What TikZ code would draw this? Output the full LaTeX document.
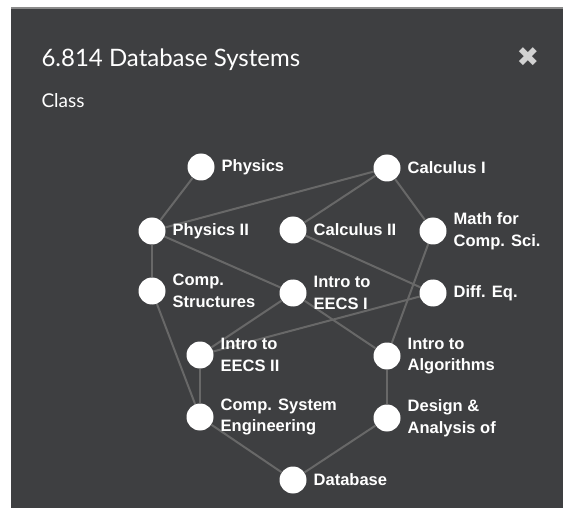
\documentclass[tikz,border=0pt]{standalone}
\usepackage{fontspec}
\setmainfont{Liberation Sans}
\newfontfamily\titlefont{Lato}
\newfontfamily\symfont{DejaVu Sans}
\usetikzlibrary{backgrounds}

\definecolor{panelgray}{HTML}{3E3F41}
\definecolor{edgegray}{HTML}{686868}
\definecolor{rimgray}{HTML}{8A8A8A}
\definecolor{closegray}{HTML}{D2D2D2}

\tikzset{
  course/.style={circle, fill=white, minimum size=27pt, inner sep=0pt,
    label={[coursetext]right:{#1}}},
  coursetext/.style={text=white, align=left, label distance=3.5pt,
    font=\fontsize{16.5}{21.5}\selectfont\bfseries},
  prereq/.style={draw=edgegray, line width=2pt}
}

\begin{document}
\begin{tikzpicture}[x=1pt, y=-1pt]
    \useasboundingbox (0, 0) rectangle (563, 508);

    \node[anchor=base west, text=white, font=\titlefont\fontsize{24}{28}\selectfont] (title) at (38, 67) {6.814 Database Systems};
    \node[anchor=base west, text=white, font=\titlefont\fontsize{19}{22}\selectfont] (kind) at (38, 108) {Class};
    \node[text=closegray, font=\symfont\fontsize{27}{30}\selectfont] (close) at (528, 57) {✖};

    \node[course={Physics}] (phys) at (201, 167) {};
    \node[course={Calculus I}] (calc) at (387, 168) {};
    \node[course={Physics II}] (physii) at (152, 231) {};
    \node[course={Calculus II}] (calcii) at (293, 230) {};
    \node[course={Math for\\Comp. Sci.}] (mathcs) at (433, 231) {};
    \node[course={Comp.\\Structures}] (struct) at (152, 291) {};
    \node[course={Intro to\\EECS I}] (eecsi) at (293, 293) {};
    \node[course={Diff. Eq.}] (diffeq) at (433, 293) {};
    \node[course={Intro to\\EECS II}] (eecsii) at (200, 355) {};
    \node[course={Intro to\\Algorithms}] (algo) at (387, 356) {};
    \node[course={Comp. System\\Engineering}] (syseng) at (200, 417) {};
    \node[course={Design \&\\Analysis of}] (design) at (387, 418) {};
    \node[course={Database}] (db) at (293, 480) {};

    \begin{scope}[on background layer]
      \fill[white] (0, 0) rectangle (563, 508);
      \fill[panelgray] (11, 7) rectangle (563, 508);
      \draw[rimgray, line width=2pt] (11, 8) -- (563, 8);

      \path[prereq]
        (phys) edge (physii)
        (calc) edge (physii)
        (calc) edge (calcii)
        (calc) edge (mathcs)
        (physii) edge (struct)
        (physii) edge (eecsi)
        (calcii) edge (diffeq)
        (mathcs) edge (algo)
        (struct) edge (syseng)
        (eecsi) edge (eecsii)
        (diffeq) edge (eecsii)
        (eecsi) edge (algo)
        (eecsii) edge (syseng)
        (algo) edge (design)
        (syseng) edge (db)
        (design) edge (db);
    \end{scope}
  \end{tikzpicture}
\end{document}
